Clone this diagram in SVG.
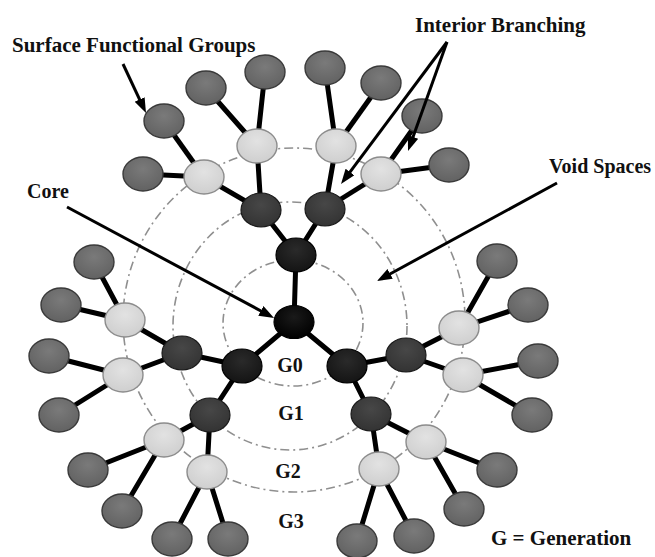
<svg xmlns="http://www.w3.org/2000/svg" width="655" height="557" viewBox="0 0 655 557">
<style>
.ring{fill:none;stroke:#8f8f8f;stroke-width:1.6;stroke-dasharray:9 4 2 4}
.bond{stroke:#000;stroke-width:5;stroke-linecap:round}
.arr{stroke:#000;stroke-width:3;fill:none}
.lbl{font-family:"Liberation Serif","Times New Roman",serif;font-weight:bold;fill:#111}
.nc{fill:url(#gc);stroke:#000;stroke-width:1.2}
.n0{fill:url(#g0);stroke:#000;stroke-width:1.2}
.n1{fill:url(#g1);stroke:#1a1a1a;stroke-width:1.2}
.n2{fill:url(#g2);stroke:#8c8c8c;stroke-width:1.4}
.n3{fill:url(#g3);stroke:#3a3a3a;stroke-width:1.4}
</style>
<defs>
<radialGradient id="gc" cx="0.5" cy="0.35" r="0.65"><stop offset="0" stop-color="#1a1a1a"/><stop offset="1" stop-color="#000"/></radialGradient>
<radialGradient id="g0" cx="0.5" cy="0.35" r="0.65"><stop offset="0" stop-color="#2a2a2a"/><stop offset="1" stop-color="#141414"/></radialGradient>
<radialGradient id="g1" cx="0.5" cy="0.35" r="0.65"><stop offset="0" stop-color="#474747"/><stop offset="1" stop-color="#333"/></radialGradient>
<radialGradient id="g2" cx="0.5" cy="0.35" r="0.65"><stop offset="0" stop-color="#e2e2e2"/><stop offset="1" stop-color="#cfcfcf"/></radialGradient>
<radialGradient id="g3" cx="0.5" cy="0.35" r="0.65"><stop offset="0" stop-color="#7a7a7a"/><stop offset="1" stop-color="#626262"/></radialGradient>
<marker id="ah" markerUnits="userSpaceOnUse" markerWidth="16" markerHeight="12" refX="7" refY="5.5" orient="auto"><path d="M0,0 L15,5.5 L0,11 z" fill="#000"/></marker>
</defs>
<rect width="655" height="557" fill="#fff"/>
<g id="rings">
<ellipse class="ring" cx="293" cy="323" rx="70" ry="63"/>
<ellipse class="ring" cx="290" cy="326" rx="117" ry="124"/>
<ellipse class="ring" cx="294" cy="320" rx="171" ry="172"/>
</g>
<g id="connectors">
<g class="bond">
<line x1="294" y1="322" x2="296" y2="255"/>
<line x1="294" y1="322" x2="242" y2="366"/>
<line x1="294" y1="322" x2="347" y2="366"/>
<line x1="296" y1="255" x2="261" y2="210"/>
<line x1="296" y1="255" x2="325" y2="209"/>
<line x1="242" y1="366" x2="182" y2="353"/>
<line x1="242" y1="366" x2="210" y2="415"/>
<line x1="347" y1="366" x2="406" y2="355"/>
<line x1="347" y1="366" x2="371" y2="414"/>
<line x1="261" y1="210" x2="204" y2="177"/>
<line x1="261" y1="210" x2="257" y2="146"/>
<line x1="325" y1="209" x2="336" y2="146"/>
<line x1="325" y1="209" x2="381" y2="174"/>
<line x1="182" y1="353" x2="125" y2="320"/>
<line x1="182" y1="353" x2="123" y2="375"/>
<line x1="210" y1="415" x2="164" y2="440"/>
<line x1="210" y1="415" x2="207" y2="472"/>
<line x1="406" y1="355" x2="459" y2="328"/>
<line x1="406" y1="355" x2="463" y2="375"/>
<line x1="371" y1="414" x2="426" y2="442"/>
<line x1="371" y1="414" x2="379" y2="469"/>
<line x1="204" y1="177" x2="143" y2="174"/>
<line x1="204" y1="177" x2="164" y2="121"/>
<line x1="257" y1="146" x2="206" y2="88"/>
<line x1="257" y1="146" x2="265" y2="72"/>
<line x1="336" y1="146" x2="325" y2="68"/>
<line x1="336" y1="146" x2="381" y2="83"/>
<line x1="381" y1="174" x2="422" y2="116"/>
<line x1="381" y1="174" x2="449" y2="165"/>
<line x1="125" y1="320" x2="94" y2="262"/>
<line x1="125" y1="320" x2="61" y2="305"/>
<line x1="123" y1="375" x2="49" y2="356"/>
<line x1="123" y1="375" x2="59" y2="415"/>
<line x1="164" y1="440" x2="88" y2="470"/>
<line x1="164" y1="440" x2="122" y2="511"/>
<line x1="207" y1="472" x2="172" y2="539"/>
<line x1="207" y1="472" x2="228" y2="539"/>
<line x1="459" y1="328" x2="497" y2="261"/>
<line x1="459" y1="328" x2="528" y2="305"/>
<line x1="463" y1="375" x2="538" y2="361"/>
<line x1="463" y1="375" x2="532" y2="415"/>
<line x1="426" y1="442" x2="497" y2="470"/>
<line x1="426" y1="442" x2="464" y2="509"/>
<line x1="379" y1="469" x2="357" y2="541"/>
<line x1="379" y1="469" x2="414" y2="536"/>
</g>
</g>
<g id="core"><ellipse class="nc" cx="294" cy="322" rx="20" ry="16.5"/></g>
<g id="g0a"><ellipse class="n0" cx="296" cy="255" rx="20" ry="17"/></g>
<g id="g0b"><ellipse class="n0" cx="242" cy="366" rx="20" ry="17"/></g>
<g id="g0c"><ellipse class="n0" cx="347" cy="366" rx="20" ry="17"/></g>
<g id="g1a"><ellipse class="n1" cx="261" cy="210" rx="20" ry="17"/></g>
<g id="g1b"><ellipse class="n1" cx="325" cy="209" rx="20" ry="17"/></g>
<g id="g1c"><ellipse class="n1" cx="182" cy="353" rx="20" ry="17"/></g>
<g id="g1d"><ellipse class="n1" cx="210" cy="415" rx="20" ry="17"/></g>
<g id="g1e"><ellipse class="n1" cx="406" cy="355" rx="20" ry="17"/></g>
<g id="g1f"><ellipse class="n1" cx="371" cy="414" rx="20" ry="17"/></g>
<g id="g2a"><ellipse class="n2" cx="204" cy="177" rx="20" ry="17"/></g>
<g id="g2b"><ellipse class="n2" cx="257" cy="146" rx="20" ry="17"/></g>
<g id="g2c"><ellipse class="n2" cx="336" cy="146" rx="20" ry="17"/></g>
<g id="g2d"><ellipse class="n2" cx="381" cy="174" rx="20" ry="17"/></g>
<g id="g2e"><ellipse class="n2" cx="125" cy="320" rx="20" ry="17"/></g>
<g id="g2f"><ellipse class="n2" cx="123" cy="375" rx="20" ry="17"/></g>
<g id="g2g"><ellipse class="n2" cx="164" cy="440" rx="20" ry="17"/></g>
<g id="g2h"><ellipse class="n2" cx="207" cy="472" rx="20" ry="17"/></g>
<g id="g2i"><ellipse class="n2" cx="459" cy="328" rx="20" ry="17"/></g>
<g id="g2j"><ellipse class="n2" cx="463" cy="375" rx="20" ry="17"/></g>
<g id="g2k"><ellipse class="n2" cx="426" cy="442" rx="20" ry="17"/></g>
<g id="g2l"><ellipse class="n2" cx="379" cy="469" rx="20" ry="17"/></g>
<g id="g3a"><ellipse class="n3" cx="143" cy="174" rx="20" ry="17"/></g>
<g id="g3b"><ellipse class="n3" cx="164" cy="121" rx="20" ry="17"/></g>
<g id="g3c"><ellipse class="n3" cx="206" cy="88" rx="20" ry="17"/></g>
<g id="g3d"><ellipse class="n3" cx="265" cy="72" rx="20" ry="17"/></g>
<g id="g3e"><ellipse class="n3" cx="325" cy="68" rx="20" ry="17"/></g>
<g id="g3f"><ellipse class="n3" cx="381" cy="83" rx="20" ry="17"/></g>
<g id="g3g"><ellipse class="n3" cx="422" cy="116" rx="20" ry="17"/></g>
<g id="g3h"><ellipse class="n3" cx="449" cy="165" rx="20" ry="17"/></g>
<g id="g3i"><ellipse class="n3" cx="94" cy="262" rx="20" ry="17"/></g>
<g id="g3j"><ellipse class="n3" cx="61" cy="305" rx="20" ry="17"/></g>
<g id="g3k"><ellipse class="n3" cx="49" cy="356" rx="20" ry="17"/></g>
<g id="g3l"><ellipse class="n3" cx="59" cy="415" rx="20" ry="17"/></g>
<g id="g3m"><ellipse class="n3" cx="88" cy="470" rx="20" ry="17"/></g>
<g id="g3n"><ellipse class="n3" cx="122" cy="511" rx="20" ry="17"/></g>
<g id="g3o"><ellipse class="n3" cx="172" cy="539" rx="20" ry="17"/></g>
<g id="g3p"><ellipse class="n3" cx="228" cy="539" rx="20" ry="17"/></g>
<g id="g3q"><ellipse class="n3" cx="497" cy="261" rx="20" ry="17"/></g>
<g id="g3r"><ellipse class="n3" cx="528" cy="305" rx="20" ry="17"/></g>
<g id="g3s"><ellipse class="n3" cx="538" cy="361" rx="20" ry="17"/></g>
<g id="g3t"><ellipse class="n3" cx="532" cy="415" rx="20" ry="17"/></g>
<g id="g3u"><ellipse class="n3" cx="497" cy="470" rx="20" ry="17"/></g>
<g id="g3v"><ellipse class="n3" cx="464" cy="509" rx="20" ry="17"/></g>
<g id="g3w"><ellipse class="n3" cx="414" cy="536" rx="20" ry="17"/></g>
<g id="g3x"><ellipse class="n3" cx="357" cy="541" rx="20" ry="17"/></g>
<g id="arrows">
<line class="arr" x1="123" y1="64" x2="142.6" y2="105.8" marker-end="url(#ah)"/>
<line class="arr" x1="67" y1="207" x2="267" y2="314.2" marker-end="url(#ah)"/>
<line class="arr" x1="447" y1="42" x2="345.8" y2="177.6" marker-end="url(#ah)"/>
<line class="arr" x1="447" y1="42" x2="410.7" y2="143.5" marker-end="url(#ah)"/>
<line class="arr" x1="557" y1="183" x2="384" y2="277.2" marker-end="url(#ah)"/>
</g>
<g id="labels" class="lbl">
<text x="12" y="52" font-size="21">Surface Functional Groups</text>
<text x="415" y="32" font-size="21">Interior Branching</text>
<text x="549" y="173" font-size="20">Void Spaces</text>
<text x="27" y="198" font-size="20">Core</text>
<text x="290" y="372" font-size="20" text-anchor="middle">G0</text>
<text x="291" y="420" font-size="20" text-anchor="middle">G1</text>
<text x="288" y="478" font-size="20" text-anchor="middle">G2</text>
<text x="291" y="528" font-size="20" text-anchor="middle">G3</text>
<text x="491" y="545" font-size="21">G = Generation</text>
</g>
</svg>
